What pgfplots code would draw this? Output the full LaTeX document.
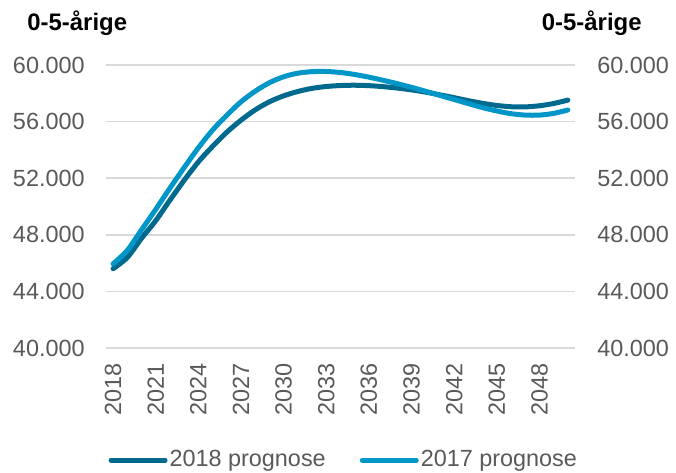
\documentclass[border=0pt]{standalone}
\usepackage{pgfplots}
\pgfplotsset{compat=1.18}
\usepackage{pgfplotstable}
\usepackage{fontspec}
\setmainfont{Liberation Sans}
\definecolor{prog18}{RGB}{0,106,142}
\definecolor{prog17}{RGB}{0,150,200}
\definecolor{ticktext}{RGB}{89,89,89}
\definecolor{gridgray}{RGB}{217,217,217}

% 0-5-aarige, 2018 and 2017 prognoses
\pgfplotstableread{
year p2018 p2017
2018 45600 45950
2019 46400 46900
2020 47750 48350
2021 49000 49800
2022 50450 51300
2023 51850 52750
2024 53150 54150
2025 54250 55400
2026 55250 56450
2027 56100 57400
2028 56830 58150
2029 57400 58750
2030 57820 59170
2031 58130 59420
2032 58350 59530
2033 58480 59540
2034 58550 59470
2035 58570 59330
2036 58540 59140
2037 58470 58920
2038 58370 58680
2039 58240 58420
2040 58080 58140
2041 57890 57850
2042 57690 57560
2043 57480 57270
2044 57290 56990
2045 57140 56750
2046 57050 56560
2047 57040 56460
2048 57120 56460
2049 57280 56580
2050 57520 56820
}\prognose

\newcommand{\lblfont}{\fontsize{11.75}{14}\selectfont}

\begin{document}
\begin{tikzpicture}
\pgfplotsset{
  base/.style={
    scale only axis, width=234.5bp, height=141.5bp,
    xmin=2017.5, xmax=2050.5, ymin=40000, ymax=60000,
    ytick={40000,44000,...,60000},
    axis line style={draw=none}, major tick length=0pt,
    tick label style={font=\lblfont, text=ticktext},
    /pgf/number format/assume math mode=true,
    y tick label style={/pgf/number format/1000 sep={.}},
    scaled y ticks=false,
  }
}
\begin{axis}[base, name=ax,
  xtick={2018,2021,...,2048},
  x tick label style={/pgf/number format/1000 sep={}, rotate=90, anchor=east,
    inner sep=0pt, xshift=-7.5bp},
  yticklabel style={inner sep=0pt, xshift=-10.5bp},
  ymajorgrids, grid style={gridgray, line width=0.75bp},
  legend style={at={(0.507,-0.396)}, anchor=center, draw=none, fill=none,
    legend columns=2, font=\lblfont, text=ticktext,
    nodes={inner sep=1bp},
    /tikz/every even column/.append style={column sep=16bp}},
  legend image code/.code={
    \draw[#1, line width=2.5bp, line cap=round] (0bp,0bp) -- (27bp,0bp);},
]
\addplot[prog18, line width=2.5bp, smooth, tension=0.5, line cap=round, line join=round]
  table[x=year, y=p2018] {\prognose};
\addlegendentry{2018 prognose}
\addplot[prog17, line width=2.5bp, smooth, tension=0.5, line cap=round, line join=round]
  table[x=year, y=p2017] {\prognose};
\addlegendentry{2017 prognose}
\end{axis}
\begin{axis}[base,
  axis y line*=right, hide x axis,
  yticklabel style={inner sep=0pt, xshift=11bp},
]
\end{axis}
\node[anchor=base west, font=\bfseries\fontsize{12}{14}\selectfont, inner sep=0pt]
  at ([xshift=-39.5bp, yshift=17.2bp]ax.north west) {0-5-årige};
\node[anchor=base east, font=\bfseries\fontsize{12}{14}\selectfont, inner sep=0pt]
  at ([xshift=33.5bp, yshift=17.2bp]ax.north east) {0-5-årige};
\pgfresetboundingbox
\useasboundingbox ([xshift=-53bp, yshift=-62.5bp]ax.south west)
  rectangle ([xshift=50.5bp, yshift=32.5bp]ax.north east);
\end{tikzpicture}
\end{document}
